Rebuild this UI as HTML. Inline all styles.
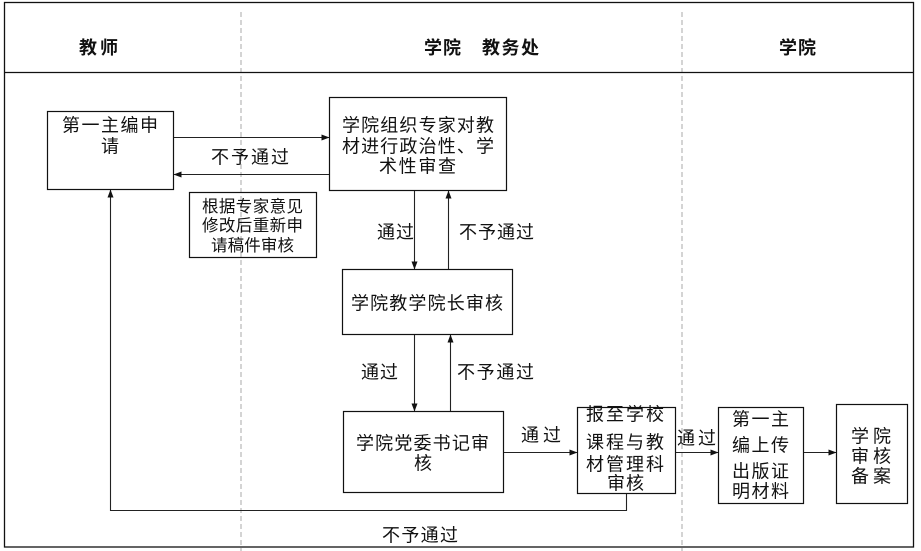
<!DOCTYPE html>
<html><head><meta charset="utf-8"><style>
html,body{margin:0;padding:0;background:#fff;}
svg{display:block;}
text{font-family:"Liberation Sans","Noto Sans CJK SC",sans-serif;fill:#111;font-size:18px;}
.b{font-weight:bold;}
</style></head><body>
<svg width="921" height="551" viewBox="0 0 921 551" xmlns="http://www.w3.org/2000/svg">
<defs>
<marker id="ah" markerWidth="8" markerHeight="6" refX="7.5" refY="3" orient="auto" markerUnits="userSpaceOnUse">
<path d="M0,0 L8,3 L0,6 Z" fill="#111"/>
</marker>
</defs>
<line x1="241" y1="12" x2="241" y2="551" stroke="#aaa" stroke-width="1" stroke-dasharray="5,3"/>
<line x1="682" y1="12" x2="682" y2="551" stroke="#aaa" stroke-width="1" stroke-dasharray="5,3"/>
<rect x="4.5" y="2.5" width="909" height="544.5" fill="none" stroke="#111" stroke-width="1.3"/>
<line x1="4" y1="72.5" x2="914" y2="72.5" stroke="#111" stroke-width="1.3"/>
<text class="b" x="79" y="54" textLength="39" lengthAdjust="spacing">教师</text>
<text class="b" x="424" y="54" textLength="37" lengthAdjust="spacing">学院</text>
<text class="b" x="482" y="54" textLength="57" lengthAdjust="spacing">教务处</text>
<text class="b" x="779" y="54" textLength="37" lengthAdjust="spacing">学院</text>

<g fill="none" stroke="#111" stroke-width="1.2">
<rect x="47.5" y="111.5" width="126" height="78"/>
<rect x="329.5" y="97.5" width="177" height="93"/>
<rect x="189.5" y="192.5" width="127" height="65"/>
<rect x="342.5" y="269.5" width="170" height="65"/>
<rect x="343.5" y="411.5" width="160" height="81"/>
<rect x="577.5" y="407.5" width="98" height="86"/>
<rect x="718.5" y="407.5" width="85" height="96"/>
<rect x="836.5" y="404.5" width="71" height="99"/>
</g>

<g stroke="#222" stroke-width="1.1" fill="none">
<line x1="174" y1="137.5" x2="329" y2="137.5" marker-end="url(#ah)"/>
<line x1="329" y1="174.5" x2="174" y2="174.5" marker-end="url(#ah)"/>
<line x1="414.5" y1="191" x2="414.5" y2="269" marker-end="url(#ah)"/>
<line x1="448.5" y1="269" x2="448.5" y2="191" marker-end="url(#ah)"/>
<line x1="414.5" y1="335" x2="414.5" y2="411" marker-end="url(#ah)"/>
<line x1="450.5" y1="411" x2="450.5" y2="335" marker-end="url(#ah)"/>
<line x1="504" y1="452.5" x2="577" y2="452.5" marker-end="url(#ah)"/>
<line x1="676" y1="452.5" x2="718" y2="452.5" marker-end="url(#ah)"/>
<line x1="804" y1="452.5" x2="836" y2="452.5" marker-end="url(#ah)"/>
<polyline points="626.5,494 626.5,510.5 110.5,510.5 110.5,190" marker-end="url(#ah)"/>
</g>

<text x="62" y="131.5" textLength="96" lengthAdjust="spacing">第一主编申</text>
<text x="101" y="152.5">请</text>

<text x="342" y="131.5" textLength="152" lengthAdjust="spacing">学院组织专家对教</text>
<text x="342" y="152.5" textLength="152" lengthAdjust="spacing">材进行政治性、学</text>
<text x="379" y="172.5" textLength="77" lengthAdjust="spacing">术性审查</text>

<text x="211" y="163.5" textLength="78" lengthAdjust="spacing">不予通过</text>

<text style="font-size:16.5px" x="202" y="212" textLength="101" lengthAdjust="spacing">根据专家意见</text>
<text style="font-size:16.5px" x="202" y="231" textLength="101" lengthAdjust="spacing">修改后重新申</text>
<text style="font-size:16.5px" x="211" y="251" textLength="83" lengthAdjust="spacing">请稿件审核</text>

<text x="377" y="238.5" textLength="37" lengthAdjust="spacing">通过</text>
<text x="459" y="238.5" textLength="75" lengthAdjust="spacing">不予通过</text>

<text x="351" y="309.5" textLength="152" lengthAdjust="spacing">学院教学院长审核</text>

<text x="361" y="378.5" textLength="37" lengthAdjust="spacing">通过</text>
<text x="457" y="378.5" textLength="77" lengthAdjust="spacing">不予通过</text>

<text x="356" y="449.5" textLength="133" lengthAdjust="spacing">学院党委书记审</text>
<text x="414" y="469.5">核</text>

<text x="521" y="441.5" textLength="40" lengthAdjust="spacing">通过</text>

<text x="586" y="420.5" textLength="78" lengthAdjust="spacing">报至学校</text>
<text x="586" y="448.5" textLength="78" lengthAdjust="spacing">课程与教</text>
<text x="586" y="470.5" textLength="78" lengthAdjust="spacing">材管理科</text>
<text x="607" y="489.5" textLength="37" lengthAdjust="spacing">审核</text>

<text x="677" y="444.5" textLength="39" lengthAdjust="spacing">通过</text>

<text x="732" y="425.5" textLength="57" lengthAdjust="spacing">第一主</text>
<text x="732" y="451.5" textLength="57" lengthAdjust="spacing">编上传</text>
<text x="732" y="477.5" textLength="57" lengthAdjust="spacing">出版证</text>
<text x="732" y="497.5" textLength="57" lengthAdjust="spacing">明材料</text>

<text x="851" y="442.5" textLength="40" lengthAdjust="spacing">学院</text>
<text x="851" y="462.5" textLength="40" lengthAdjust="spacing">审核</text>
<text x="851" y="482.5" textLength="40" lengthAdjust="spacing">备案</text>

<text x="382" y="541.5" textLength="76" lengthAdjust="spacing">不予通过</text>
</svg>
</body></html>
